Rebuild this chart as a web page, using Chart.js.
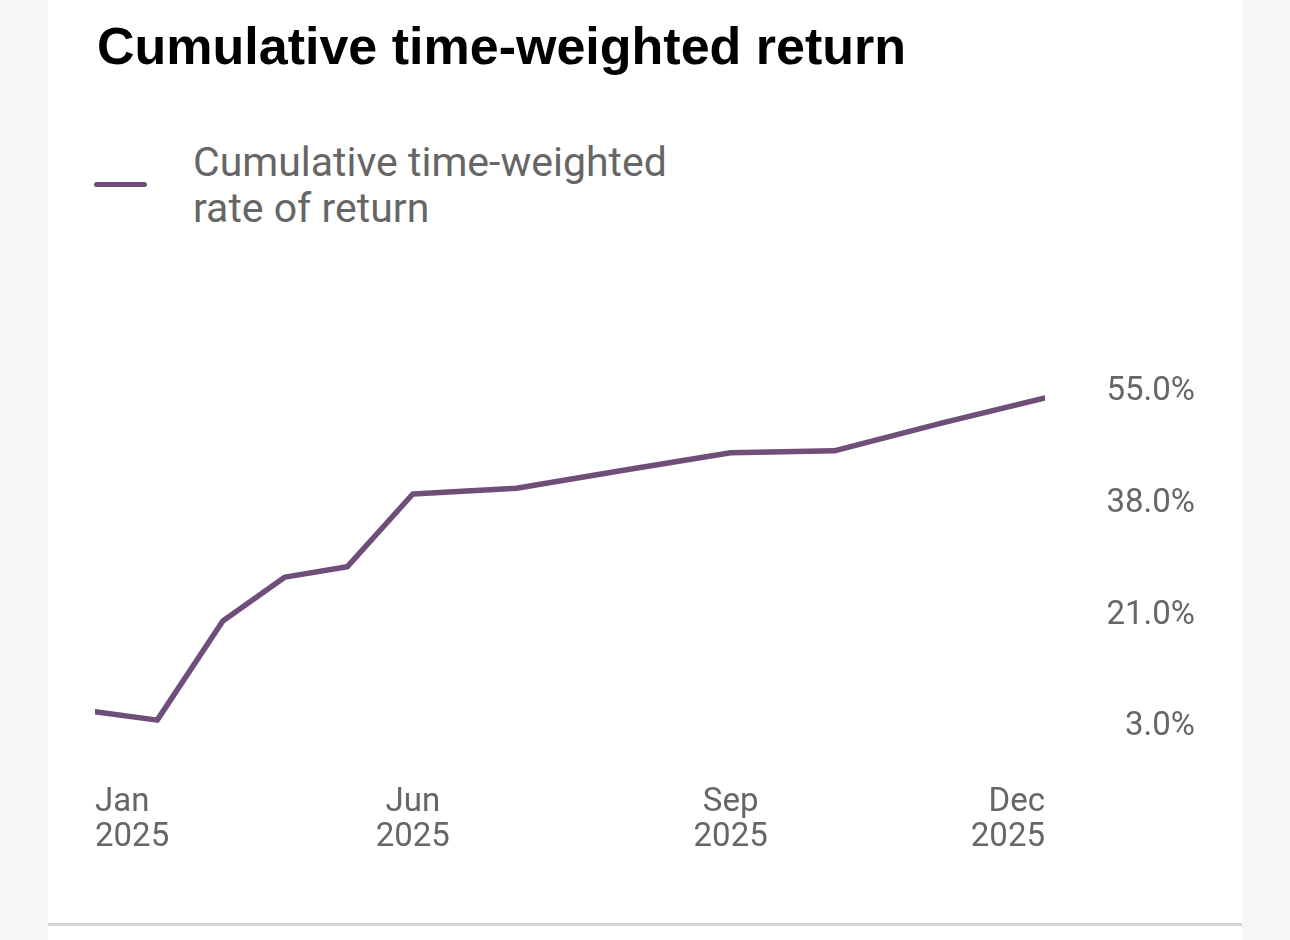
<!DOCTYPE html>
<html>
<head>
<meta charset="utf-8">
<script src="https://cdn.jsdelivr.net/npm/chart.js@4/dist/chart.umd.min.js"></script>
<style>
  html, body { margin: 0; padding: 0; }
  body { width: 1290px; height: 940px; background: #f6f6f6; position: relative; overflow: hidden; }
  #card { position: absolute; left: 48px; top: 0; width: 1194px; height: 940px; background: #ffffff; }
  #rule { position: absolute; left: 48px; top: 923px; width: 1194px; height: 3px; background: #d6d6d6; }
  #title { position: absolute; left: 97px; top: 20px; margin: 0; font-family: "Liberation Sans", Arial, sans-serif; font-weight: 700; font-size: 52px; line-height: 1; color: #000; white-space: nowrap; }
  #legend { position: absolute; left: 94px; top: 139px; }
  #legend .swatch { position: absolute; left: 0; top: 43px; width: 53px; height: 5px; border-radius: 3px; }
  #legend .text { position: absolute; left: 99px; top: 0; width: 500px; font-family: Roboto, "Noto Sans", sans-serif; font-size: 41px; line-height: 46px; color: #666666; }
  #wrap { position: absolute; left: 48px; top: 240px; width: 1194px; height: 640px; }
</style>
</head>
<body>
<div id="card"></div>
<div id="rule"></div>
<h1 id="title">Cumulative time-weighted return</h1>
<div id="legend"><div class="swatch"></div><div class="text"></div></div>
<div id="wrap"><canvas id="c"></canvas></div>
<script>
// ---- data ----
const seriesLabel = "Cumulative time-weighted rate of return";
// day of year (0 = Jan 1 2025) for each observation
const dayOfYear = [59, 77, 96, 114, 132, 151, 181, 212, 243, 273, 304, 334];
// cumulative return, %
const returnPct = [4.9, 3.6, 19.0, 25.8, 27.4, 38.7, 39.6, 42.4, 45.1, 45.4, 49.7, 53.6];
// x axis tick labels and the observation each one sits on
const xTickLabels = [["Jan", "2025"], ["Jun", "2025"], ["Sep", "2025"], ["Dec", "2025"]];
const xTickIndex = [0, 5, 8, 11];
// y axis tick labels (evenly spaced from bottom to top)
const yTickLabels = ["3.0%", "21.0%", "38.0%", "55.0%"];
const yMin = 3, yMax = 55;

const lineColor = "#6f4e79";
const tickColor = "#666666";

const points = dayOfYear.map((d, i) => ({ x: d, y: returnPct[i] }));
const xTickValues = xTickIndex.map(i => dayOfYear[i]);
const yTickValues = yTickLabels.map((_, i) => yMin + (yMax - yMin) * i / (yTickLabels.length - 1));

const chart = new Chart(document.getElementById("c"), {
  type: "line",
  data: {
    datasets: [{
      label: seriesLabel,
      data: points,
      borderColor: lineColor,
      backgroundColor: lineColor,
      borderWidth: 5.5,
      pointRadius: 0,
      tension: 0,
      borderCapStyle: "round",
      borderJoinStyle: "round"
    }]
  },
  options: {
    responsive: true,
    maintainAspectRatio: false,
    animation: false,
    devicePixelRatio: 1,
    layout: { padding: { left: 47, right: 47, top: 149, bottom: 20 } },
    plugins: { legend: { display: false }, tooltip: { enabled: false } },
    scales: {
      x: {
        type: "linear",
        min: dayOfYear[0],
        max: dayOfYear[dayOfYear.length - 1],
        grid: { display: false, drawTicks: false },
        border: { display: false },
        afterBuildTicks: (s) => { s.ticks = xTickValues.map(v => ({ value: v })); },
        afterFit: (s) => { s.height = 136; s.paddingLeft = 0; s.paddingRight = 0; },
        ticks: {
          autoSkip: false,
          maxRotation: 0,
          align: "inner",
          padding: 61,
          color: tickColor,
          font: { family: "Roboto", size: 33, lineHeight: 1.06 },
          callback: (v) => { const i = xTickValues.indexOf(v); return i >= 0 ? xTickLabels[i] : ""; }
        }
      },
      y: {
        type: "linear",
        position: "right",
        min: yMin,
        max: yMax,
        grid: { display: false, drawTicks: false },
        border: { display: false },
        afterBuildTicks: (s) => { s.ticks = yTickValues.map(v => ({ value: v })); },
        afterFit: (s) => { s.width = 150; s.paddingTop = 0; s.paddingBottom = 0; },
        ticks: {
          crossAlign: "far",
          padding: 60,
          labelOffset: 3,
          color: tickColor,
          font: { family: "Roboto", size: 33 },
          callback: (v) => { const i = yTickValues.findIndex(t => Math.abs(t - v) < 1e-6); return i >= 0 ? yTickLabels[i] : ""; }
        }
      }
    }
  }
});

// HTML legend built from the chart's dataset
const ds = chart.data.datasets[0];
document.querySelector("#legend .swatch").style.background = ds.borderColor;
document.querySelector("#legend .text").textContent = ds.label;
</script>
</body>
</html>
